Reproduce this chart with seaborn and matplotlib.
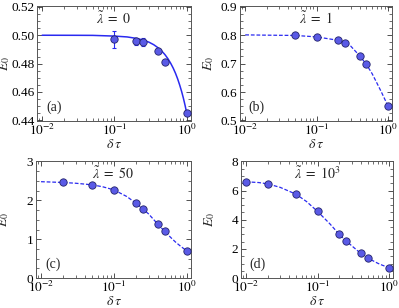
import numpy as np
import pandas as pd
import matplotlib
matplotlib.use("Agg")
import matplotlib.pyplot as plt
import seaborn as sns
from matplotlib.ticker import LogLocator, MultipleLocator, FixedLocator, NullFormatter, FixedFormatter

# ---- data ----
# (a) lambda = 0
a_x = [0.1, 0.2, 0.25, 0.4, 0.5, 1.0]
a_y = [0.4970, 0.4957, 0.4954, 0.4890, 0.4810, 0.4452]
a_err = [0.0060, 0.0027, 0.0027, 0.0008, 0.0006, 0.0006]
a_line_x = [0.01, 0.03, 0.05, 0.1, 0.15, 0.2, 0.25, 0.3, 0.35, 0.4, 0.45, 0.5, 0.55, 0.6, 0.65, 0.7, 0.75, 0.8, 0.85, 0.9, 0.95, 1.0]
a_line_y = [0.5000, 0.49995, 0.4999, 0.4994, 0.4988, 0.4978, 0.4966, 0.4951, 0.4933, 0.4912, 0.4889, 0.4863, 0.4834, 0.4802, 0.4768, 0.4731, 0.4691, 0.4648, 0.4603, 0.4555, 0.4504, 0.4450]

# (b) lambda = 1
b_x = [0.05, 0.1, 0.2, 0.25, 0.4, 0.5, 1.0]
b_y = [0.799, 0.794, 0.782, 0.774, 0.728, 0.697, 0.552]
b_line_x = [0.01, 0.02, 0.05, 0.1, 0.2, 0.25, 0.3, 0.4, 0.5, 0.6, 0.7, 0.8, 0.9, 1.0]
b_line_y = [0.801, 0.800, 0.799, 0.794, 0.782, 0.774, 0.762, 0.728, 0.697, 0.665, 0.632, 0.603, 0.576, 0.552]

# (c) lambda = 50
c_x = [0.02, 0.05, 0.1, 0.2, 0.25, 0.4, 0.5, 1.0]
c_y = [2.46, 2.40, 2.27, 1.93, 1.78, 1.39, 1.20, 0.70]
c_line_x = [0.01, 0.02, 0.03, 0.05, 0.07, 0.1, 0.15, 0.2, 0.25, 0.3, 0.4, 0.5, 0.6, 0.7, 0.8, 1.0]
c_line_y = [2.48, 2.46, 2.44, 2.40, 2.35, 2.27, 2.10, 1.93, 1.78, 1.65, 1.39, 1.20, 1.05, 0.93, 0.84, 0.70]

# (d) lambda = 10^3
d_x = [0.01, 0.02, 0.05, 0.1, 0.2, 0.25, 0.4, 0.5, 1.0]
d_y = [6.60, 6.46, 5.75, 4.57, 3.01, 2.55, 1.70, 1.40, 0.71]
d_line_x = [0.01, 0.015, 0.02, 0.03, 0.05, 0.07, 0.1, 0.15, 0.2, 0.25, 0.3, 0.4, 0.5, 0.6, 0.7, 0.8, 1.0]
d_line_y = [6.60, 6.55, 6.46, 6.22, 5.75, 5.25, 4.57, 3.70, 3.01, 2.55, 2.22, 1.70, 1.40, 1.18, 1.01, 0.89, 0.71]

titles = [r"$\tilde{\lambda}\ =\ 0$", r"$\tilde{\lambda}\ =\ 1$", r"$\tilde{\lambda}\ =\ 50$", r"$\tilde{\lambda}\ =\ 10^3$"]
tags = ["(a)", "(b)", "(c)", "(d)"]
ylims = [(0.4395, 0.5205), (0.498, 0.902), (0, 3.01), (0, 8.02)]
ymajor = [0.02, 0.1, 1, 2]
yminor = [0.005, 0.025, 0.25, 0.5]
yfmt = ["%.2f", "%.1f", "%d", "%d"]

sns.set_style("ticks")
plt.rcParams["font.family"] = ["Liberation Serif", "DejaVu Serif"]
plt.rcParams["mathtext.fontset"] = "stix"

fig = plt.figure(figsize=(3.99, 3.08), dpi=100)
rects = [[0.093, 0.607, 0.386, 0.373], [0.602, 0.607, 0.381, 0.373],
         [0.090, 0.097, 0.389, 0.380], [0.604, 0.097, 0.382, 0.380]]
axes = [fig.add_axes(r) for r in rects]

LINE = "#2a2af0"
MFACE = "#5a5ae6"
MEDGE = "#22226a"

pts = [(a_x, a_y), (b_x, b_y), (c_x, c_y), (d_x, d_y)]
lines = [(a_line_x, a_line_y), (b_line_x, b_line_y), (c_line_x, c_line_y), (d_line_x, d_line_y)]

for i, ax in enumerate(axes):
    lx, ly = lines[i]
    ldf = pd.DataFrame({"x": lx, "y": ly})
    if i == 0:
        sns.lineplot(data=ldf, x="x", y="y", ax=ax, color=LINE, lw=1.1, sort=False)
        ax.errorbar(a_x, a_y, yerr=a_err, fmt="none", ecolor=LINE, elinewidth=0.8, capsize=1.5, capthick=0.8, zorder=2)
    else:
        sns.lineplot(data=ldf, x="x", y="y", ax=ax, color=LINE, lw=0.9, sort=False, linestyle=(0, (3, 1.5)))
    px, py = pts[i]
    pdf = pd.DataFrame({"x": px, "y": py})
    sns.scatterplot(data=pdf, x="x", y="y", ax=ax, color=MFACE, edgecolor=MEDGE, linewidth=0.6, s=28, zorder=3)

    ax.set_xscale("log")
    ax.set_xlim(0.0085, 1.15)
    ax.set_ylim(*ylims[i])
    ax.xaxis.set_major_locator(FixedLocator([0.01, 0.1, 1.0]))
    ax.xaxis.set_major_formatter(FixedFormatter([r"$10^{-2}$", r"$10^{-1}$", r"$10^{0}$"]))
    ax.xaxis.set_minor_locator(LogLocator(base=10, subs=np.arange(2, 10)))
    ax.xaxis.set_minor_formatter(NullFormatter())
    ax.yaxis.set_major_locator(MultipleLocator(ymajor[i]))
    ax.yaxis.set_minor_locator(MultipleLocator(yminor[i]))
    ax.yaxis.set_major_formatter(matplotlib.ticker.FormatStrFormatter(yfmt[i]))
    ax.tick_params(which="both", direction="in", top=True, right=True, labelsize=9.5, colors="#333333", labelcolor="black")
    ax.tick_params(axis="x", pad=1.5)
    ax.tick_params(axis="y", pad=2)
    ax.tick_params(which="major", length=3.5, width=0.6)
    ax.tick_params(which="minor", length=2, width=0.5)
    for sp in ax.spines.values():
        sp.set_color("#555555")
        sp.set_linewidth(0.7)
    ax.set_xlabel(r"$\delta\,\tau$", fontsize=10, labelpad=0)
    ax.set_ylabel(r"$E_0$", fontsize=10)
    ax.yaxis.set_label_coords(-0.16, 0.5)
    ax.text(0.5, 0.89, titles[i], transform=ax.transAxes, ha="center", va="center", fontsize=10)
    ax.text(0.11, 0.12, tags[i], transform=ax.transAxes, ha="center", va="center", fontsize=10)

fig.savefig("out.png", dpi=100)
